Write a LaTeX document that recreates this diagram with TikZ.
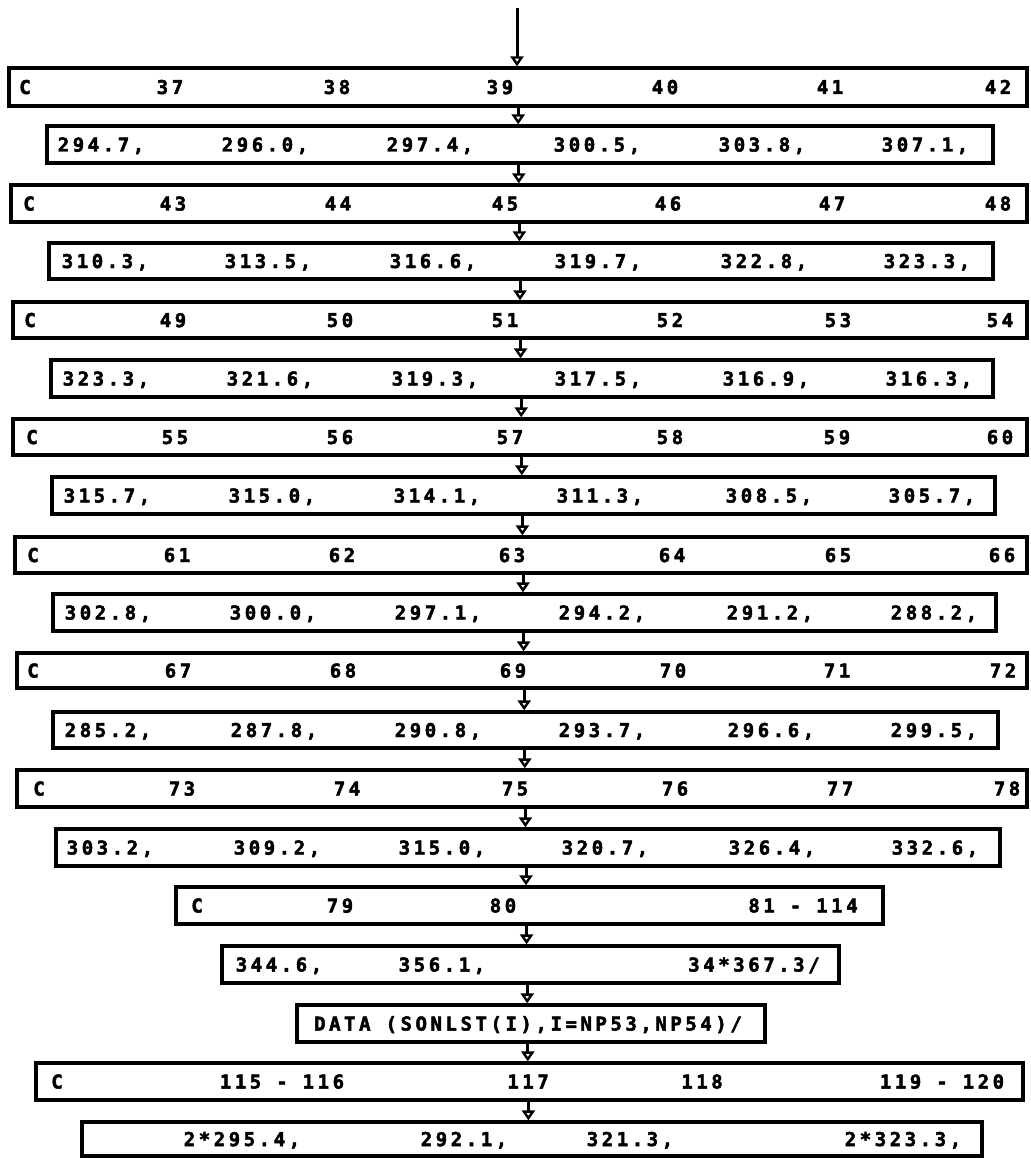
\documentclass[tikz,border=0pt]{standalone}
\usepackage{fontspec}
\newfontface\plotfont[LetterSpace=18.7,FakeBold=2.5]{DejaVu Sans Mono Bold}
\usetikzlibrary{arrows.meta}
\newcommand\rowtext[3]{%
  \foreach \myx/\mytxt [count=\myi] in {#3} {\node[lbl] (t#1-\myi) at (\myx,#2+7) {\mytxt};}}
\begin{document}
\begin{tikzpicture}[x=1pt,y=-1pt,
  box/.style={draw, line width=3.3pt, inner sep=0pt},
  lbl/.style={anchor=base, inner sep=0pt, font=\plotfont\fontsize{19}{20}\selectfont},
  conn/.style={line width=3pt, -{Triangle[open,width=13pt,length=10pt,line width=2.4pt]}}]
\useasboundingbox (0,0) rectangle (1030,1158);
% boxes
\node[box, minimum width=1018pt, minimum height=38pt] (r1) at (518,87) {};
\node[box, minimum width=946pt, minimum height=37pt] (r2) at (520,144.5) {};
\node[box, minimum width=1016pt, minimum height=37pt] (r3) at (519,203.5) {};
\node[box, minimum width=944pt, minimum height=36pt] (r4) at (521,261) {};
\node[box, minimum width=1014pt, minimum height=36pt] (r5) at (520,320) {};
\node[box, minimum width=942pt, minimum height=37pt] (r6) at (522,378.5) {};
\node[box, minimum width=1014pt, minimum height=36pt] (r7) at (520,437) {};
\node[box, minimum width=943pt, minimum height=37pt] (r8) at (523.5,495.5) {};
\node[box, minimum width=1012pt, minimum height=36pt] (r9) at (521,555) {};
\node[box, minimum width=943pt, minimum height=37pt] (r10) at (524.5,612.5) {};
\node[box, minimum width=1010pt, minimum height=35pt] (r11) at (522,670.5) {};
\node[box, minimum width=945pt, minimum height=36pt] (r12) at (525.5,730) {};
\node[box, minimum width=1010pt, minimum height=37pt] (r13) at (522,788.5) {};
\node[box, minimum width=944pt, minimum height=37pt] (r14) at (528,847.5) {};
\node[box, minimum width=707pt, minimum height=37pt] (r15) at (529.5,905.5) {};
\node[box, minimum width=617pt, minimum height=37pt] (r16) at (530.5,964.5) {};
\node[box, minimum width=468pt, minimum height=37pt] (r17) at (531,1023.5) {};
\node[box, minimum width=987pt, minimum height=37pt] (r18) at (529.5,1081.5) {};
\node[box, minimum width=900pt, minimum height=34pt] (r19) at (532,1139) {};
% texts
\rowtext{1}{87}{25/C,170/37,337/38,500/39,665/40,830/41,998/42}
\rowtext{2}{144.5}{101/{294.7,},265/{296.0,},430/{297.4,},597/{300.5,},762/{303.8,},925/{307.1,}}
\rowtext{3}{203.5}{29/C,173/43,338/44,505/45,668/46,832/47,998/48}
\rowtext{4}{261}{105/{310.3,},268/{313.5,},433/{316.6,},598/{319.7,},764/{322.8,},927/{323.3,}}
\rowtext{5}{320}{30/C,173/49,340/50,505/51,670/52,838/53,1000/54}
\rowtext{6}{378.5}{106/{323.3,},270/{321.6,},435/{319.3,},598/{317.5,},766/{316.9,},929/{316.3,}}
\rowtext{7}{437}{32/C,175/55,340/56,510/57,670/58,837/59,1000/60}
\rowtext{8}{495.5}{107/{315.7,},272/{315.0,},437/{314.1,},600/{311.3,},769/{308.5,},932/{305.7,}}
\rowtext{9}{555}{33/C,177/61,342/62,512/63,672/64,838/65,1002/66}
\rowtext{10}{612.5}{108/{302.8,},273/{300.0,},438/{297.1,},602/{294.2,},770/{291.2,},934/{288.2,}}
\rowtext{11}{670.5}{33/C,178/67,343/68,513/69,673/70,837/71,1003/72}
\rowtext{12}{730}{108/{285.2,},274/{287.8,},438/{290.8,},602/{293.7,},771/{296.6,},934/{299.5,}}
\rowtext{13}{788.5}{39/C,182/73,347/74,515/75,675/76,840/77,1007/78}
\rowtext{14}{847.5}{110/{303.2,},277/{309.2,},442/{315.0,},605/{320.7,},772/{326.4,},935/{332.6,}}
\rowtext{15}{905.5}{197/C,340/79,503/80,803/{81 - 114}}
\rowtext{16}{964.5}{279/{344.6,},442/{356.1,},754/{34*367.3/}}
\rowtext{17}{1023.5}{528/{DATA (SONLST(I),I=NP53,NP54)/}}
\rowtext{18}{1081.5}{57/C,282/{115 - 116},528/117,702/118,942/{119 - 120}}
\rowtext{19}{1139}{242/{2*295.4,},464/{292.1,},630/{321.3,},903/{2*323.3,}}
% connectors
\coordinate (top) at (517,8);
\draw[conn] (top) -- (r1.north -| top);
\foreach \k [evaluate=\k as \ax using 517.6+0.6*\k, evaluate=\k as \nk using int(\k+1)] in {1,...,18} {
  \coordinate (a\k) at (\ax,0);
  \draw[conn] (r\k.south -| a\k) -- (r\nk.north -| a\k);
}
\end{tikzpicture}
\end{document}
